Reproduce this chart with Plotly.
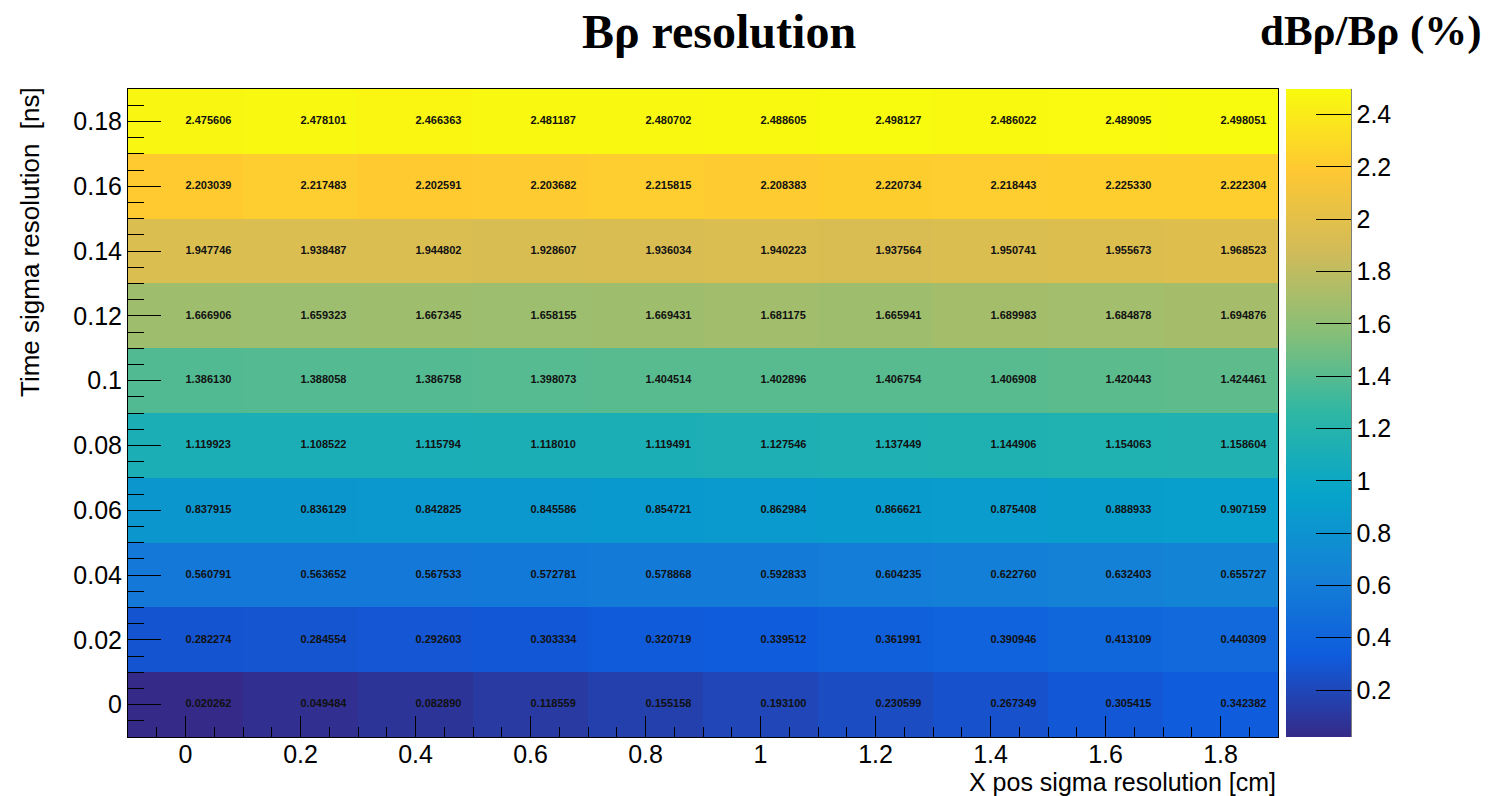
import plotly.graph_objects as go

# ---- data ----
x_pos_sigma = [0.0, 0.2, 0.4, 0.6, 0.8, 1.0, 1.2, 1.4, 1.6, 1.8]
time_sigma = [0.0, 0.02, 0.04, 0.06, 0.08, 0.10, 0.12, 0.14, 0.16, 0.18]

row_t000 = [0.020262, 0.049484, 0.082890, 0.118559, 0.155158, 0.193100, 0.230599, 0.267349, 0.305415, 0.342382]
row_t002 = [0.282274, 0.284554, 0.292603, 0.303334, 0.320719, 0.339512, 0.361991, 0.390946, 0.413109, 0.440309]
row_t004 = [0.560791, 0.563652, 0.567533, 0.572781, 0.578868, 0.592833, 0.604235, 0.622760, 0.632403, 0.655727]
row_t006 = [0.837915, 0.836129, 0.842825, 0.845586, 0.854721, 0.862984, 0.866621, 0.875408, 0.888933, 0.907159]
row_t008 = [1.119923, 1.108522, 1.115794, 1.118010, 1.119491, 1.127546, 1.137449, 1.144906, 1.154063, 1.158604]
row_t010 = [1.386130, 1.388058, 1.386758, 1.398073, 1.404514, 1.402896, 1.406754, 1.406908, 1.420443, 1.424461]
row_t012 = [1.666906, 1.659323, 1.667345, 1.658155, 1.669431, 1.681175, 1.665941, 1.689983, 1.684878, 1.694876]
row_t014 = [1.947746, 1.938487, 1.944802, 1.928607, 1.936034, 1.940223, 1.937564, 1.950741, 1.955673, 1.968523]
row_t016 = [2.203039, 2.217483, 2.202591, 2.203682, 2.215815, 2.208383, 2.220734, 2.218443, 2.225330, 2.222304]
row_t018 = [2.475606, 2.478101, 2.466363, 2.481187, 2.480702, 2.488605, 2.498127, 2.486022, 2.489095, 2.498051]

z = [row_t000, row_t002, row_t004, row_t006, row_t008,
     row_t010, row_t012, row_t014, row_t016, row_t018]

colorbar_ticks = [0.2, 0.4, 0.6, 0.8, 1.0, 1.2, 1.4, 1.6, 1.8, 2.0, 2.2, 2.4]

# ROOT kBird palette
bird_stops = [0.0, 0.125, 0.25, 0.375, 0.5, 0.625, 0.75, 0.875, 1.0]
bird_r = [0.2082, 0.0592, 0.0780, 0.0232, 0.1802, 0.5301, 0.8186, 0.9956, 0.9764]
bird_g = [0.1664, 0.3599, 0.5041, 0.6419, 0.7178, 0.7492, 0.7328, 0.7862, 0.9832]
bird_b = [0.5293, 0.8684, 0.8385, 0.7914, 0.6425, 0.4662, 0.3499, 0.1968, 0.0539]
colorscale = [[s, f"rgb({round(r*255)},{round(g*255)},{round(b*255)})"]
              for s, r, g, b in zip(bird_stops, bird_r, bird_g, bird_b)]

flat = [v for row in z for v in row]
zmin, zmax = min(flat), max(flat)

W, H = 1488, 796
L, R, T, B = 128, 210, 89, 59
pw = W - L - R
ph = H - T - B

fig = go.Figure()
fig.add_trace(go.Heatmap(
    x=x_pos_sigma, y=time_sigma, z=z,
    colorscale=colorscale, zmin=zmin, zmax=zmax,
    hoverinfo="skip",
    colorbar=dict(
        x=(1286 - L) / pw, xanchor="left", xpad=0,
        y=0.5, yanchor="middle", len=1.0, ypad=0,
        thickness=65, outlinewidth=0,
        tickmode="array", tickvals=colorbar_ticks,
        ticktext=[f"{v:g}" for v in colorbar_ticks],
        ticks="inside", ticklen=35, tickcolor="black", tickwidth=1,
        tickfont=dict(family="Liberation Sans", size=25, color="black"),
    ),
))

# cell value labels (left-aligned at cell centre, as ROOT TEXT option)
tx, ty, tt = [], [], []
for j, t in enumerate(time_sigma):
    for i, xv in enumerate(x_pos_sigma):
        tx.append(xv)
        ty.append(t)
        tt.append(f"<b>{z[j][i]:.6f}</b>")
fig.add_trace(go.Scatter(
    x=tx, y=ty, text=tt, mode="text", textposition="middle right",
    textfont=dict(family="Liberation Sans", size=11, color="#111111"),
    hoverinfo="skip", showlegend=False,
))

axis_font = dict(family="Liberation Sans", size=25, color="black")
fig.update_xaxes(
    range=[-0.1, 1.9], tick0=0, dtick=0.2, ticks="inside", ticklen=21,
    tickcolor="black", tickwidth=1, showgrid=False, zeroline=False,
    showline=True, linecolor="black", linewidth=1, mirror=True,
    tickfont=axis_font, ticklabelstandoff=-5,
    minor=dict(tick0=0, dtick=0.05, ticks="inside", ticklen=10,
               tickcolor="black", tickwidth=1, showgrid=False),
)
fig.update_yaxes(
    range=[-0.01, 0.19], tick0=0, dtick=0.02, ticks="inside", ticklen=33,
    tickcolor="black", tickwidth=1, showgrid=False, zeroline=False,
    showline=True, linecolor="black", linewidth=1, mirror=True,
    tickfont=axis_font,
    minor=dict(tick0=0, dtick=0.005, ticks="inside", ticklen=16,
               tickcolor="black", tickwidth=1, showgrid=False),
)

cb_right = (1351 - L) / pw
fig.add_shape(type="line", xref="paper", yref="paper",
              x0=cb_right, x1=cb_right, y0=0, y1=1,
              line=dict(color="black", width=1))

fig.update_layout(
    width=W, height=H,
    margin=dict(l=L, r=R, t=T, b=B, pad=0),
    paper_bgcolor="white", plot_bgcolor="white",
    showlegend=False,
    title=dict(text="<b>Bρ resolution</b>", xref="container", x=719 / W,
               xanchor="center", yref="container", y=1 - 31 / H,
               yanchor="middle",
               font=dict(family="Liberation Serif", size=48, color="black")),
    annotations=[
        dict(text="<b>dBρ/Bρ (%)</b>", xref="paper", yref="paper",
             x=(1484 - L) / pw, xanchor="right",
             y=1 + (T - 31) / ph, yanchor="middle", showarrow=False,
             font=dict(family="Liberation Serif", size=43, color="black")),
        dict(text="Time sigma resolution  [ns]", xref="paper", yref="paper",
             x=(30 - L) / pw, xanchor="center",
             y=1 + (T - 85) / ph, yanchor="top", textangle=-90,
             showarrow=False,
             font=dict(family="Liberation Sans", size=26, color="black")),
        dict(text="X pos sigma resolution [cm]", xref="paper", yref="paper",
             x=1.0, xanchor="right", y=-(782 - (H - B)) / ph,
             yanchor="middle", showarrow=False,
             font=dict(family="Liberation Sans", size=25, color="black")),
    ],
)

fig.write_html("out.html")
